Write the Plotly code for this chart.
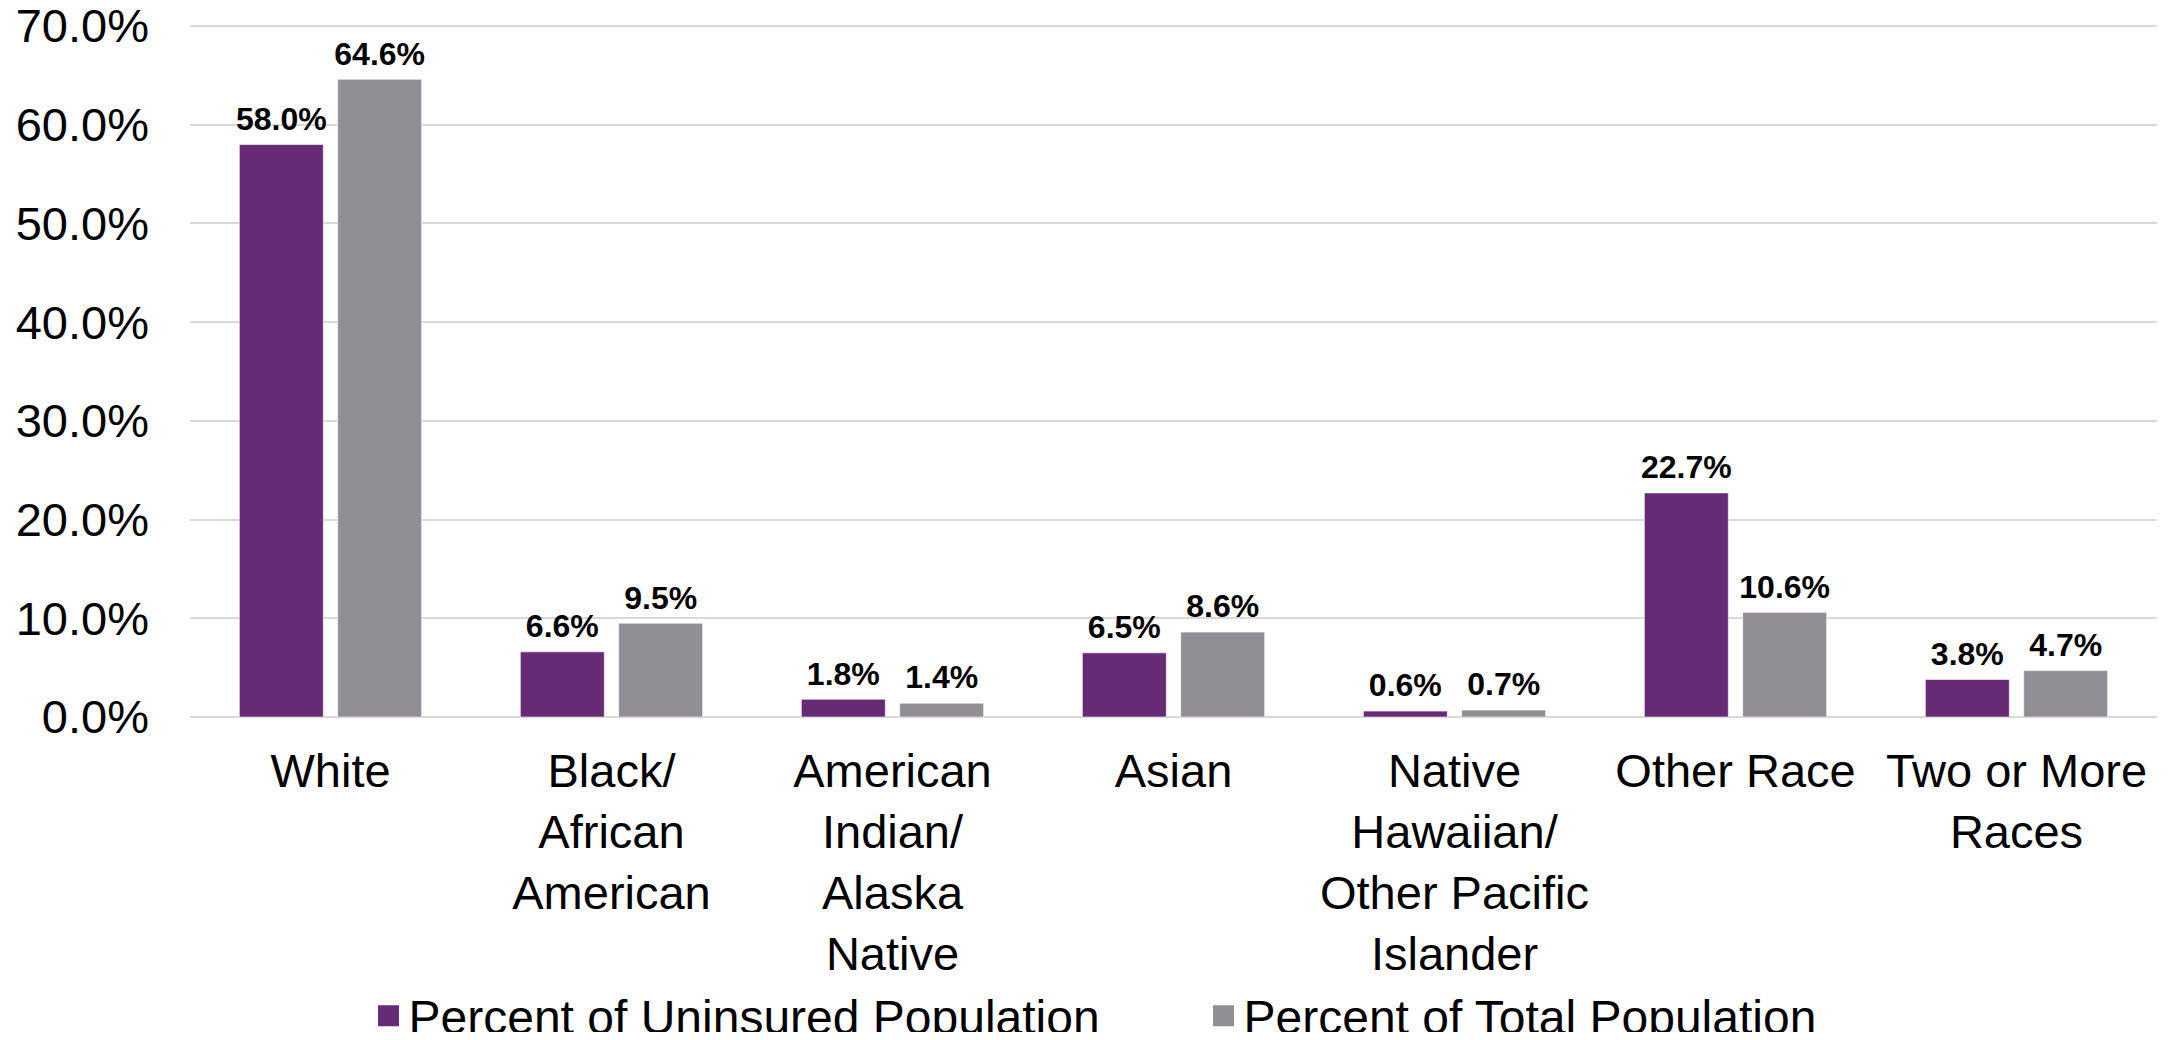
'''
Uninsured vs total population share by race, as a grouped bar chart.
'''
import plotly.graph_objects as go


# Chart data.
categories = [
    'White',
    'Black/<br>African<br>American',
    'American<br>Indian/<br>Alaska<br>Native',
    'Asian',
    'Native<br>Hawaiian/<br>Other Pacific<br>Islander',
    'Other Race',
    'Two or More<br>Races',
]
uninsured_pct = [58.0, 6.6, 1.8, 6.5, 0.6, 22.7, 3.8]
total_pct = [64.6, 9.5, 1.4, 8.6, 0.7, 10.6, 4.7]
series_names = ['Percent of Uninsured Population', 'Percent of Total Population']
y_ticks = [0, 10, 20, 30, 40, 50, 60, 70]

PURPLE = '#672a75'
GRAY = '#918e96'
FONT = 'Liberation Sans, Arial, sans-serif'

fig = go.Figure()

for name, values, color in zip(series_names, [uninsured_pct, total_pct], [PURPLE, GRAY]):
    fig.add_bar(
        x=categories,
        y=values,
        name=name,
        marker_color=color,
        marker_line=dict(color='rgba(255,255,255,0.6)', width=1),
        text=values,
        # the small subscript spaces give the label a bit more room above the bar
        texttemplate='<sub>&nbsp;</sub><b>%{y:.1f}%</b><sub>&nbsp;</sub>',
        textposition='outside',
        constraintext='none',
        textfont=dict(family=FONT, size=32, color='black'),
        cliponaxis=False,
        showlegend=False,
        legendgroup=name,
    )
    # Legend-only entry so the swatch can be a larger square.
    fig.add_scatter(
        x=[None],
        y=[None],
        mode='markers',
        name=name,
        legendgroup=name,
        marker=dict(symbol='square', size=16, color=color,
                    line=dict(color=color, width=5)),
    )

# The page puts the figure 8px in from the top-left corner.
fig.update_layout(
    width=2158,
    height=1024,
    barmode='group',
    bargap=0.30,
    bargroupgap=0.146,
    plot_bgcolor='white',
    paper_bgcolor='white',
    margin=dict(l=182, r=9, t=15, b=315, autoexpand=False),
    font=dict(family=FONT, size=46, color='black'),
    legend=dict(
        orientation='h',
        xref='container',
        yref='container',
        x=0.554,
        xanchor='center',
        y=0.0156,
        yanchor='middle',
        font=dict(family=FONT, size=48, color='black'),
        entrywidth=790,
        itemwidth=30,
        tracegroupgap=0,
    ),
)

fig.update_yaxes(
    # a bit above 70 so the top gridline is not dropped at the edge
    range=[0, 70.3],
    tickvals=y_ticks,
    ticktext=[f'{v:.1f}%' for v in y_ticks],
    showgrid=True,
    gridcolor='#d9d9d9',
    gridwidth=2,
    zeroline=True,
    zerolinecolor='#d9d9d9',
    zerolinewidth=2,
    showline=False,
    ticks='',
    automargin=False,
    ticklabeloverflow='allow',
    ticklabelstandoff=40,
    tickfont=dict(family=FONT, size=47, color='black'),
)

fig.update_xaxes(
    showline=False,
    ticks='',
    automargin=False,
    ticklabeloverflow='allow',
    ticklabelstandoff=22,
    tickangle=0,
    tickfont=dict(family=FONT, size=47, color='black'),
)

fig.write_html('out.html')
